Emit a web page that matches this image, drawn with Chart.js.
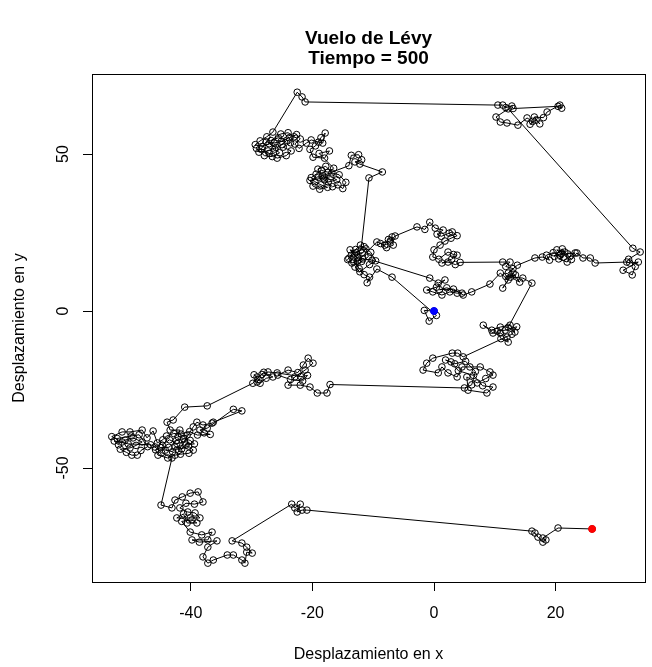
<!DOCTYPE html>
<html lang="es">
<head>
<meta charset="UTF-8">
<title>Vuelo de Lévy</title>
<script src="https://cdn.jsdelivr.net/npm/chart.js"></script>
<style>
  html, body { margin: 0; padding: 0; background: #fff; }
  canvas { display: block; }
</style>
</head>
<body>
<canvas id="chart" width="652" height="667"></canvas>
<script>
// --- datos (tramos del recorrido, en orden) ---
const tramoInicio = [[0,0],[-1.6,0.2],[-0.8,-3.2],[0.4,-1.4],[-6.9,10.8],[-9.4,13.4],[-11,9],[-10.6,10.8],[-11.5,11.6],
  [-12.3,13.5],[-13.2,15.6],[-12.5,17],[-11.8,18.5],[-13.6,17.8],[-14.2,16.4],[-12.9,19.6],[-12.1,21],[-11.2,19.8],
  [-10.8,17.3],[-11.9,15.8],[-13,14],[-12.2,12.5],[-10.6,14.8],[-9.6,16],[-10.4,18.7],[-11.5,20.5],[-12.8,18.6],
  [-13.8,19.5],[-12.4,16.2]];
const tramoCentro = [[-9.4,22],[-8.1,21],[-7.5,22.8],[-6.9,23.6],[-6.7,21],[-7.8,20.2],[-8.8,21.5],[-7.2,22.3],[-6.4,23.9],
  [-2.8,26.8],[-1.5,26],[-0.7,28.3],[0.2,26.4],[1.5,25.8],[0.5,24.5],[1.2,23.8],[2.5,24.8],[3,25.2],[3.8,24],[2.8,23.2],
  [1.8,22.3],[1,21],[0,19.5],[-0.2,17.2],[0.8,16.5],[2.3,18.8],[3.2,18],[3.8,17.8],[2.9,16.5],[1.3,15.3],[2.3,15.6],
  [3.5,14.8],[4.3,15.5]];
const tramoEste = [[11.3,15.6],[12.5,15.6],[11.8,14.2],[13,13.5],[12.2,12.1],[13.7,14.6],[16.6,16.9],[17.8,17.2],[19,16.2],
  [18.5,17.8],[19.6,18.6],[20.7,17.8],[21.5,18.8],[20.2,19.5],[21.3,17.2],[20.5,16.6],[21.9,15.6],[22.4,17.5],[23.2,18.5],
  [22,18.2],[20.9,18.3],[19.8,17.4],[21.1,19.8],[22.6,16.4],[23.5,18.5],[24.5,16.9],[25.7,16.9],[26.5,15.3],[31.7,15.6],
  [32.2,15.3],[33.6,15.6],[31.1,13],[32.6,11.5],[33.1,14.2],[32,16.5],[33.9,18.8],[32.7,20]];
const tramoNorte = [[12.2,64.4],[10.2,61.8],[10.9,60.2],[12,59.9],[13.8,59.2],[15.3,61.5],[16.2,60.4],[15.8,59.5],[16.8,60.8],
  [17.4,59.6],[16.5,61.8],[18,61.6],[18.6,63.4],[20.7,65.6],[21,64.6],[20.4,65.2],[13,64.5],[12.8,65.3],[11.8,64.8],
  [11.3,65.6],[10.5,65.6],[-21.2,66.6],[-21.7,68.2],[-22.5,69.7]];
const tramoNoroeste = [[-26.5,57],[-27.5,55.5],[-28.6,54.2],[-29.4,53],[-28.2,52.4],[-27.1,53.3],[-26,52.1],[-27.3,51],
  [-28.8,50.6],[-29.2,51.8],[-27.9,49.5],[-26.6,49.2],[-25.4,50.4],[-26.2,51.6],[-25,53],[-24.2,54.4],[-25.6,55.2],
  [-26.8,54.3],[-25.2,56.4],[-24,56.8],[-23,55.5],[-23.6,53.6],[-24.8,52.2],[-23.5,51],[-24.3,49.5],[-25.8,48.7],
  [-27.1,50.2],[-28.4,51.7],[-27.6,53.9],[-26.3,53.5],[-25.1,54.1],[-23.8,55.2],[-22.6,56.2],[-22,54.8],[-22.9,53.2],
  [-22.2,51.8],[-21,53.5],[-20.2,54.5],[-19,53.8],[-18.3,53.5],[-17.9,56.7],[-18.6,55.2],[-19.5,52.6],[-20.4,51.5],
  [-19.9,49],[-18,48.7],[-17.2,51],[-18.9,50.2]];
const tramoBajada = [[-16.5,45.5],[-17.4,44.2],[-18.5,44.8],[-19.4,43.6],[-20.2,42.5],[-19.6,41.2],[-18.6,40.2],[-17.5,39.4],
  [-18.8,38.8],[-19.9,39.8],[-20.4,41.6],[-18.2,42.4],[-17,42.8],[-16,41.8],[-17.4,41.1],[-18.3,43.1],[-19.1,45.2],
  [-17.8,46.1],[-16.8,44],[-15.6,43.4],[-14.5,41],[-15,39],[-15.8,40.2],[-16.7,39.6],[-18,41.8],[-19,42.6],[-14,46.3],
  [-13.6,49.6],[-12.4,49.8],[-11.9,48.2],[-13,47.5],[-12.2,46.8],[-8.5,44.3],[-10.7,42.4],[-12,19.5],[-13.1,18.2],
  [-14,16.8],[-13.5,15.3],[-12.6,15.9],[-11.7,16.6],[-10.2,16.2]];
const tramoRegreso = [[-0.7,10.5],[0.7,8.9],[1.8,9.9],[0.4,7.6],[-1.2,6.7],[-0.2,6.1],[1.3,5.1],[2.6,6.1],[3.8,5.7],[4.6,5.7],
  [2.1,7.4],[0.9,6.8],[3.2,7],[4.8,5.1],[6.2,6.1],[9.2,8.6],[10.9,12.1],[12.2,9.9],[11.3,7.3],[13,12.1],[14.1,9.2],
  [12.6,10.8],[13.4,11.5],[11.8,11],[14.6,10.5],[16.1,8.9]];
const tramoSur = [[12.2,-5.2],[13.3,-6.7],[12.5,-4.5],[10.9,-5.1],[9.5,-6.1],[8.1,-4.5],[9.7,-7],[10.9,-7],[12,-8.3],
  [12.2,-9.9],[11,-8.8],[10.4,-6.4],[11.7,-6.1],[13.6,-5],[12.8,-7.4],[4.8,-14.6],[3.9,-13.4],[3,-13.4],[-0.2,-15],
  [-1.2,-16.6],[-1.8,-18.8],[0.7,-19.7],[1.3,-17.8],[2.3,-19.7],[3.8,-21],[4.6,-17.8],[5.9,-17.8],[7.6,-17.8],[9.2,-19.4],
  [9.7,-20.4],[8.5,-21.5],[7.1,-22.9],[5.4,-21],[5.6,-25.2],[8.7,-26.1],[9.7,-24.2],[8,-23.8],[6.5,-20.5],[4,-19],
  [2.8,-16.2],[1.9,-15.6],[3.4,-16.8],[5.2,-16],[6.8,-19.3],[6.2,-23.5],[5,-24.5]];
const tramoOeste = [[-17.1,-23.4],[-17.6,-26.1],[-19.2,-26.1],[-20.4,-24.2],[-22,-23.6],[-24,-23.6],[-22.9,-21],[-21.2,-18.8],
  [-19.9,-16.6],[-20.7,-15],[-21.5,-17.2],[-22.4,-19.6],[-24,-18.8],[-25.7,-20.4],[-23.6,-21.8],[-21.6,-22.3],[-20.8,-20.5],
  [-21.9,-20.9],[-25.8,-19.7],[-27.3,-19.4],[-28.3,-20.2],[-29.1,-21],[-29.6,-20.3],[-28.8,-21.9],[-29.1,-22.6],
  [-28.6,-23],[-27.6,-21.4],[-26.5,-21],[-28,-19.5],[-29.8,-23],[-37.3,-30.2],[-41,-30.6]];
const tramoSuroeste = [[-42.9,-34.7],[-43.9,-35.4],[-43.4,-37.9],[-41.8,-37.9],[-42.1,-40],[-40.6,-39.5],[-41,-41.7],
  [-42.3,-42.2],[-43.5,-41],[-44.7,-42.7],[-44.2,-44.3],[-43,-44.8],[-42.6,-43.3],[-41.5,-43.9],[-40.4,-43],[-39.6,-44.3],
  [-40.3,-45.3],[-41.7,-45.6],[-42.6,-45.9],[-43.8,-46.8],[-45.4,-45.9],[-45.8,-44.2],[-44.9,-43.5],[-43.6,-43.4],
  [-42.4,-41.3],[-41.2,-40.6],[-40.1,-41.2],[-39.4,-42.3],[-40.8,-42.7],[-42,-44.4],[-39.6,-36.9],[-39,-35.4],[-38,-36.3],
  [-36.5,-35.7],[-36.3,-35.4],[-31.6,-31.8],[-33,-31.3],[-37.3,-37.3],[-38.5,-37.9],[-37.8,-38.8],[-36.8,-39.3],
  [-38.9,-39.5],[-40.2,-38.4],[-41.6,-39.2],[-42.8,-39],[-44,-39.8],[-44.6,-41],[-45.5,-42]];
const tramoExtremo = [[-46.2,-38.2],[-47.2,-40.4],[-48,-37.9],[-50,-38.5],[-51.3,-38.5],[-53,-40],[-51.3,-41.7],[-50.8,-41.1],
  [-49.5,-40.4],[-48,-41.7],[-49,-42.8],[-50,-43.6],[-51.6,-44],[-50.6,-45],[-49.7,-45.9],[-48.8,-45.9],[-48.2,-44.4],
  [-47.1,-43.2],[-48.5,-39.4],[-49.8,-39.8],[-52.1,-40.6],[-51.9,-42.6],[-52.6,-41.4],[-50.3,-42.3],[-46.6,-42.6],
  [-45.9,-43.3],[-44.8,-45.1],[-43.1,-46.8]];
const tramoFinal = [[-44.9,-61.8],[-43.1,-62.7],[-42.6,-60.2],[-41.4,-59.2],[-40.1,-58],[-38.8,-57.6],[-38,-60.8],[-39.4,-61.5],
  [-40.8,-61.2],[-41.8,-62.7],[-40.5,-64],[-39.3,-64.3],[-38.5,-65.9],[-40.1,-65.9],[-42.3,-65.9],[-41.2,-64.6],[-40.6,-67.5],
  [-39,-67.5],[-39.8,-66.5],[-41.5,-67],[-40.1,-70.4],[-38.2,-71.3],[-36.5,-70.4],[-37.2,-72.9],[-39.8,-72.9],[-38.6,-73.6],
  [-35.7,-73.2],[-37.2,-75.2],[-38,-78.3],[-37.2,-80.3],[-36.3,-79.3],[-34,-77.7],[-33,-77.7],[-31.6,-79.3],[-31.1,-80.3],
  [-30.8,-76.8],[-29.9,-77.1],[-30.8,-75.2],[-31.6,-73.9],[-33.2,-73.2],[-23.4,-61.5],[-22.9,-62.7],[-22,-61.5],[-22.5,-64],
  [-21.7,-63.4],[-20.9,-63.4],[16.1,-70.1],[16.6,-70.7],[17.1,-72],[17.9,-73.6],[18.4,-72.9],[17.9,-72.3],[20.4,-69.1],
  [26,-69.4]];

const ticksX = [-40, -20, 0, 20];
const ticksY = [-50, 0, 50];

const recorrido = [].concat(tramoInicio, tramoCentro, tramoEste, tramoNorte, tramoNoroeste, tramoBajada,
  tramoRegreso, tramoSur, tramoOeste, tramoSuroeste, tramoExtremo, tramoFinal);
const puntoInicio = recorrido[0];
const puntoFin = recorrido[recorrido.length - 1];

const FUENTE = '"Liberation Sans", Arial, sans-serif';

// marco + titulo estilo R
const marcoR = {
  id: 'marcoR',
  afterDraw(chart) {
    const { ctx, chartArea: a } = chart;
    ctx.save();
    ctx.strokeStyle = '#000';
    ctx.lineWidth = 1;
    ctx.strokeRect(Math.round(a.left) + 0.5, Math.round(a.top) + 0.5,
      Math.round(a.right - a.left), Math.round(a.bottom - a.top));
    ctx.fillStyle = '#000';
    ctx.font = 'bold 19px ' + FUENTE;
    ctx.textAlign = 'center';
    ctx.textBaseline = 'alphabetic';
    const cx = (a.left + a.right) / 2;
    ctx.fillText('Vuelo de Lévy', cx, 44);
    ctx.fillText('Tiempo = 500', cx, 64);
    ctx.restore();
  }
};

new Chart(document.getElementById('chart'), {
  type: 'scatter',
  data: {
    datasets: [
      {
        data: [{ x: puntoFin[0], y: puntoFin[1] }],
        pointRadius: 3.5, pointBackgroundColor: '#ff0000', pointBorderColor: '#ff0000', pointBorderWidth: 1
      },
      {
        data: [{ x: puntoInicio[0], y: puntoInicio[1] }],
        pointRadius: 3.5, pointBackgroundColor: '#0000ff', pointBorderColor: '#0000ff', pointBorderWidth: 1
      },
      {
        data: recorrido.map(p => ({ x: p[0], y: p[1] })),
        showLine: true,
        borderColor: '#000',
        borderWidth: 1,
        tension: 0,
        pointRadius: 3.3,
        pointBackgroundColor: 'rgba(0,0,0,0)',
        pointBorderColor: '#000',
        pointBorderWidth: 1
      }
    ]
  },
  options: {
    responsive: false,
    animation: false,
    devicePixelRatio: 1,
    layout: { padding: { top: 74, right: 7, bottom: 0, left: 0 } },
    plugins: { legend: { display: false }, tooltip: { enabled: false }, title: { display: false } },
    scales: {
      x: {
        type: 'linear',
        min: -56.25, max: 34.7,
        afterBuildTicks: s => { s.ticks = ticksX.map(v => ({ value: v })); },
        afterFit: s => { s.height = 85; },
        grid: { drawOnChartArea: false, drawTicks: true, tickLength: 9, color: '#000' },
        border: { display: false },
        ticks: { color: '#000', padding: 13, font: { family: FUENTE, size: 16 }, maxRotation: 0 },
        title: { display: true, text: 'Desplazamiento en x', color: '#000',
          font: { family: FUENTE, size: 16 }, padding: { top: 0, bottom: 3 } }
      },
      y: {
        type: 'linear',
        min: -86.3, max: 75.5,
        afterBuildTicks: s => { s.ticks = ticksY.map(v => ({ value: v })); },
        afterFit: s => { s.width = 92; },
        grid: { drawOnChartArea: false, drawTicks: true, tickLength: 9, color: '#000' },
        border: { display: false },
        ticks: { color: '#000', padding: 8, minRotation: 90, maxRotation: 90, crossAlign: 'center',
          font: { family: FUENTE, size: 16 } },
        title: { display: true, text: 'Desplazamiento en y', color: '#000',
          font: { family: FUENTE, size: 16 }, padding: { top: 10, bottom: 0 } }
      }
    }
  },
  plugins: [marcoR]
});
</script>
</body>
</html>
